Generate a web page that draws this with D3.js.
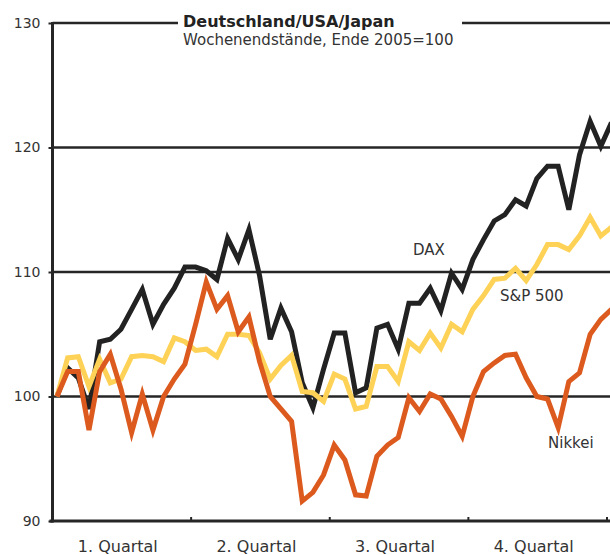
<!DOCTYPE html>
<html>
<head>
<meta charset="utf-8">
<title>Deutschland/USA/Japan</title>
<script src="https://d3js.org/d3.v7.min.js"></script>
<style>
body { margin: 0; background: #fff; }
svg { display: block; font-family: "DejaVu Sans", Verdana, sans-serif; }
.grid line { stroke: #262626; stroke-width: 2.5; }
.series { fill: none; stroke-width: 5; stroke-linejoin: miter; }
.lab { fill: #333; }
</style>
</head>
<body>
<script>
// weekly closes, end of 2005 = 100 (week 0)
var dax = [100, 102.3, 101.5, 99.0, 104.4, 104.6, 105.4, 107.0, 108.6, 105.8,
  107.4, 108.7, 110.4, 110.4, 110.1, 109.4, 112.7, 111.0, 113.4, 109.7,
  104.6, 107.1, 105.2, 101.1, 99.1, 102.2, 105.1, 105.1, 100.3, 100.7,
  105.5, 105.8, 103.8, 107.5, 107.5, 108.7, 106.9, 109.9, 108.6, 111.0,
  112.6, 114.1, 114.6, 115.8, 115.3, 117.5, 118.5, 118.5, 115.0, 119.4,
  122.1, 120.1, 122.0];
var sp500 = [100, 103.1, 103.2, 100.8, 103.0, 101.1, 101.4, 103.2, 103.3, 103.2,
  102.8, 104.7, 104.4, 103.7, 103.8, 103.2, 105.0, 105.0, 104.9, 103.5,
  101.4, 102.5, 103.3, 100.4, 100.3, 99.6, 101.8, 101.4, 99.0, 99.2,
  102.4, 102.4, 101.2, 104.4, 103.7, 105.1, 103.9, 105.8, 105.2, 107.0,
  108.1, 109.4, 109.5, 110.3, 109.3, 110.6, 112.2, 112.2, 111.8, 112.9,
  114.4, 112.9, 113.6];
var nikkei = [100, 102.0, 102.0, 97.3, 102.0, 103.4, 100.6, 97.1, 100.2, 97.3,
  100.0, 101.4, 102.6, 105.8, 109.2, 107.0, 108.1, 105.2, 106.4, 102.8,
  100.0, 99.0, 98.0, 91.6, 92.3, 93.7, 96.1, 94.9, 92.1, 92.0,
  95.2, 96.1, 96.7, 99.9, 98.8, 100.2, 99.8, 98.4, 96.8, 100.0,
  102.0, 102.7, 103.3, 103.4, 101.5, 100.0, 99.8, 97.5, 101.2, 101.9,
  105.0, 106.2, 107.0];

var quarters = ["1. Quartal", "2. Quartal", "3. Quartal", "4. Quartal"];
var yTicks = [90, 100, 110, 120, 130];
var seriesNames = ["DAX", "S&P 500", "Nikkei"];
var colors = ["#222222", "#fdd257", "#dc5a1e"];

var width = 610, height = 555;
var margin = {top: 23, right: 3, bottom: 34, left: 52.5};

var svg = d3.select("body").append("svg")
    .attr("width", width)
    .attr("height", height);

// weeks of the year on x, first value sits a little after the axis
var x = d3.scaleLinear().domain([0, 52]).range([margin.left, width - margin.right]);
var y = d3.scaleLinear().domain([90, 130]).range([height - margin.bottom, margin.top]);
var weekPos = function(i) { return x(i + 0.42); };

// horizontal grid lines
svg.append("g").attr("class", "grid")
  .selectAll("line")
  .data(yTicks.slice(1))
  .enter().append("line")
    .attr("x1", margin.left).attr("x2", width)
    .attr("y1", function(d) { return y(d); })
    .attr("y2", function(d) { return y(d); });

// y axis
var yAxis = svg.append("g")
    .attr("transform", "translate(" + margin.left + ",0)")
    .call(d3.axisLeft(y).tickValues(yTicks).tickSize(4).tickPadding(8));
yAxis.select(".domain").remove();
yAxis.selectAll(".tick line").attr("stroke", "#262626").attr("stroke-width", 2);
yAxis.selectAll("text").attr("fill", "#333").style("font-size", "14px")
    .style("font-family", "DejaVu Sans");

// series
var lineGen = d3.line()
    .x(function(d, i) { return weekPos(i); })
    .y(function(d) { return y(d); });

[dax, sp500, nikkei].forEach(function(s, k) {
  svg.append("path")
    .datum(s)
    .attr("class", "series")
    .attr("stroke", colors[k])
    .attr("d", lineGen);
});

// axis lines
svg.append("line")
    .attr("x1", margin.left).attr("x2", margin.left)
    .attr("y1", y(130) - 1).attr("y2", y(90) + 1.5)
    .attr("stroke", "#262626").attr("stroke-width", 3);
svg.append("line")
    .attr("x1", margin.left - 3).attr("x2", width)
    .attr("y1", y(90)).attr("y2", y(90))
    .attr("stroke", "#262626").attr("stroke-width", 3);

// quarter ticks along the bottom
svg.append("g").selectAll("line")
  .data([1, 2, 3, 4])
  .enter().append("line")
    .attr("x1", function(d) { return x(d * 13); })
    .attr("x2", function(d) { return x(d * 13); })
    .attr("y1", y(90) - 4).attr("y2", y(90))
    .attr("stroke", "#262626").attr("stroke-width", 2);

svg.append("g").selectAll("text")
  .data(quarters)
  .enter().append("text")
    .attr("class", "lab")
    .attr("x", function(d, i) { return x(i * 13 + 6.5) - 4; })
    .attr("y", 552)
    .attr("text-anchor", "middle")
    .style("font-size", "16px")
    .text(function(d) { return d; });

// title box sitting on the top grid line
svg.append("rect")
    .attr("x", 178).attr("y", 10).attr("width", 284).attr("height", 40)
    .attr("fill", "#fff");
svg.append("text")
    .attr("x", 183).attr("y", 27)
    .style("font-size", "16px").style("font-weight", "bold")
    .attr("fill", "#222")
    .text("Deutschland/USA/Japan");
svg.append("text")
    .attr("x", 183).attr("y", 45)
    .style("font-size", "15px")
    .attr("fill", "#333")
    .text("Wochenendstände, Ende 2005=100");

// series labels
var labelPos = [[413, 255], [500, 301], [548, 448]];
svg.append("g").selectAll("text")
  .data(seriesNames)
  .enter().append("text")
    .attr("class", "lab")
    .attr("x", function(d, i) { return labelPos[i][0]; })
    .attr("y", function(d, i) { return labelPos[i][1]; })
    .style("font-size", "15px")
    .text(function(d) { return d; });
</script>
</body>
</html>
